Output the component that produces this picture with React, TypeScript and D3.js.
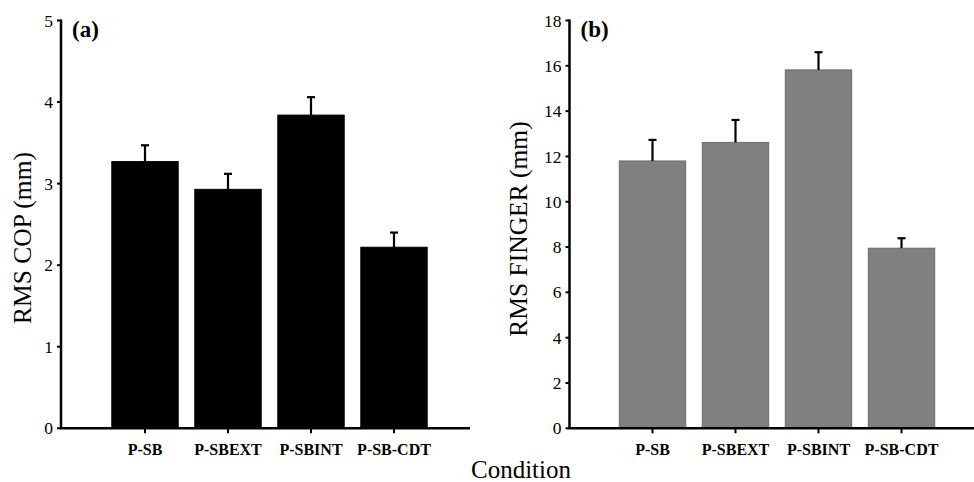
import React from "react"
import * as d3 from "d3"

const conditions = ["P-SB", "P-SBEXT", "P-SBINT", "P-SB-CDT"]

// panel (a) RMS COP
const copMeans = [3.27, 2.93, 3.84, 2.22]
const copErrors = [0.2, 0.19, 0.22, 0.18]
const copTicks = [0, 1, 2, 3, 4, 5]

// panel (b) RMS FINGER
const fingerMeans = [11.8, 12.62, 15.82, 7.95]
const fingerErrors = [0.93, 0.99, 0.78, 0.44]
const fingerTicks = [0, 2, 4, 6, 8, 10, 12, 14, 16, 18]

const W = 974
const H = 482
const serif = { fontFamily: "'Liberation Serif', 'Times New Roman', 'DejaVu Serif', serif" }

type PanelProps = {
  means: number[]
  errors: number[]
  ticks: number[]
  max: number
  axisX: number
  axisEnd: number
  bandRange: [number, number]
  fill: string
  stroke: string
  tag: string
  yLabel: string
  yLabelX: number
  yLabelY: number
}

const Panel = ({ means, errors, ticks, max, axisX, axisEnd, bandRange, fill, stroke, tag, yLabel, yLabelX, yLabelY }: PanelProps) => {
  const y = d3.scaleLinear().domain([0, max]).range([428.3, 20.5])
  const x = d3.scaleBand<string>().domain(conditions).range(bandRange).paddingInner(0.2).paddingOuter(0.1)
  const bw = x.bandwidth()

  return (
    <g>
      {/* bars */}
      {conditions.map((c, i) => (
        <rect
          key={c}
          x={x(c)}
          y={y(means[i])}
          width={bw}
          height={y(0) - y(means[i])}
          fill={fill}
          stroke={stroke}
          strokeWidth={1}
        />
      ))}

      {/* error bars, upper only */}
      {conditions.map((c, i) => {
        const cx = (x(c) as number) + bw / 2
        return (
          <g key={c} stroke="#000" strokeWidth={2.2}>
            <line x1={cx} x2={cx} y1={y(means[i])} y2={y(means[i] + errors[i])} />
            <line x1={cx - 4} x2={cx + 4} y1={y(means[i] + errors[i])} y2={y(means[i] + errors[i])} />
          </g>
        )
      })}

      {/* y axis */}
      <line x1={axisX} x2={axisX} y1={y(max) - 1} y2={y(0)} stroke="#000" strokeWidth={2.5} />
      {ticks.map((t) => (
        <g key={t}>
          <line x1={axisX - 4} x2={axisX} y1={y(t)} y2={y(t)} stroke="#000" strokeWidth={2} />
          <text x={axisX - 8} y={y(t)} dy="0.35em" textAnchor="end" style={serif} fontSize={17.5} fill="#000">
            {t}
          </text>
        </g>
      ))}

      {/* x axis */}
      <line x1={axisX - 1} x2={axisEnd} y1={y(0)} y2={y(0)} stroke="#000" strokeWidth={2.5} />
      {conditions.map((c) => {
        const cx = (x(c) as number) + bw / 2
        return (
          <g key={c}>
            <line x1={cx} x2={cx} y1={y(0)} y2={y(0) + 5} stroke="#000" strokeWidth={2} />
            <text x={cx} y={455} textAnchor="middle" style={serif} fontWeight="bold" fontSize={16} fill="#000">
              {c}
            </text>
          </g>
        )
      })}

      <text x={axisX + 11} y={37} style={serif} fontWeight="bold" fontSize={23} fill="#000">
        {tag}
      </text>

      <text
        transform={`translate(${yLabelX},${yLabelY}) rotate(-90)`}
        textAnchor="middle"
        style={serif}
        fontSize={25.5}
        fill="#000"
      >
        {yLabel}
      </text>
    </g>
  )
}

export default function App() {
  return (
    <svg width={W} height={H} style={{ position: "absolute", left: 0, top: 0, background: "#fff" }}>
      <Panel
        means={copMeans}
        errors={copErrors}
        ticks={copTicks}
        max={5}
        axisX={61}
        axisEnd={470}
        bandRange={[103.5, 435.5]}
        fill="#000"
        stroke="#000"
        tag="(a)"
        yLabel="RMS COP (mm)"
        yLabelX={31}
        yLabelY={238}
      />
      <Panel
        means={fingerMeans}
        errors={fingerErrors}
        ticks={fingerTicks}
        max={18}
        axisX={569.5}
        axisEnd={974}
        bandRange={[611, 943]}
        fill="#808080"
        stroke="#6b6b6b"
        tag="(b)"
        yLabel="RMS FINGER (mm)"
        yLabelX={527}
        yLabelY={229}
      />
      <text x={521} y={478} textAnchor="middle" style={serif} fontSize={25} fill="#000">
        Condition
      </text>
    </svg>
  )
}
